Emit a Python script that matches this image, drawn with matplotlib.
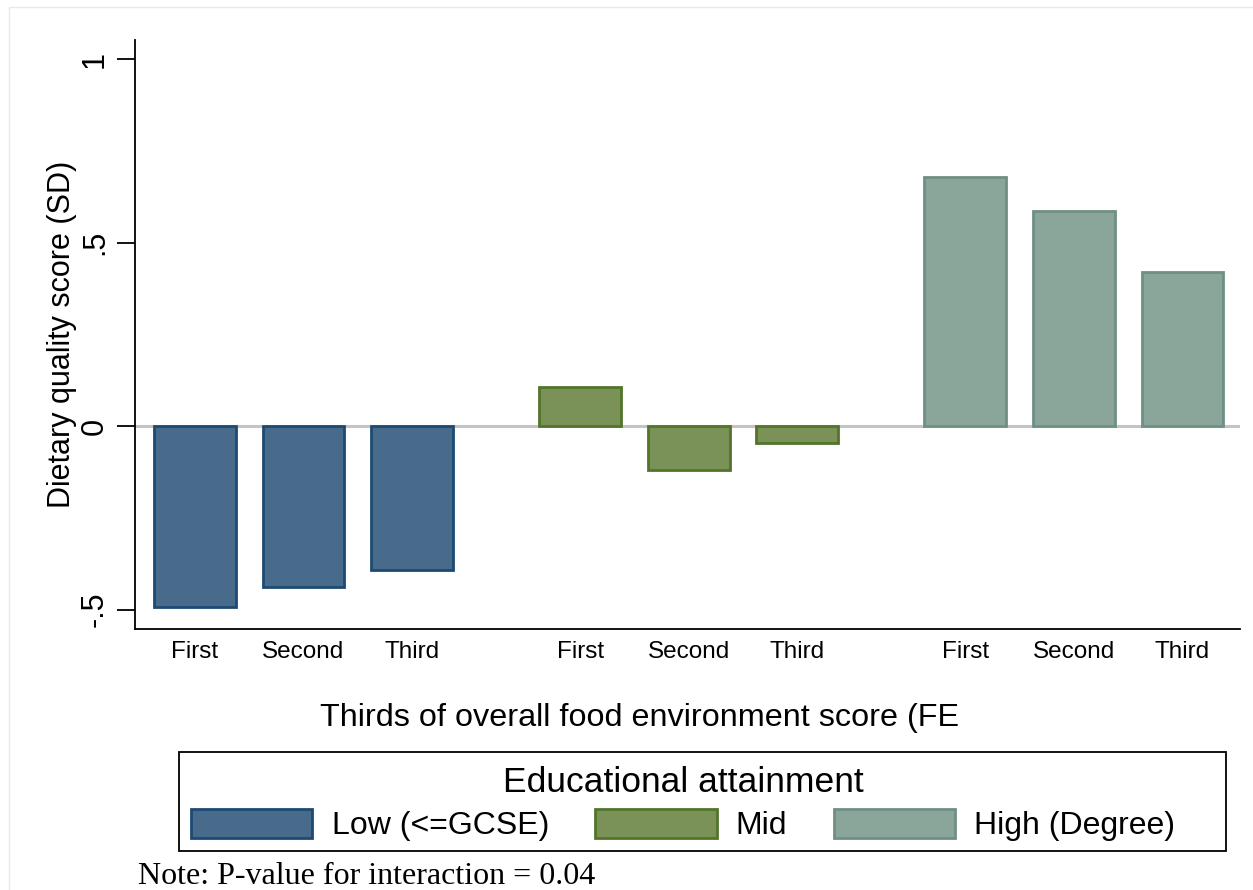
import matplotlib
matplotlib.use("Agg")
import matplotlib.pyplot as plt
from matplotlib.patches import Patch, Rectangle

# Data: mean dietary quality score (SD units) by thirds of food environment score
thirds = ["First", "Second", "Third"]
groups = ["Low (<=GCSE)", "Mid", "High (Degree)"]
low_vals = [-0.493, -0.439, -0.393]
mid_vals = [0.106, -0.120, -0.047]
high_vals = [0.678, 0.586, 0.420]
yticks = [-0.5, 0, 0.5, 1]
ytick_labels = ["-.5", "0", ".5", "1"]

fill_colors = ["#486b8c", "#7a9157", "#8aa59a"]
edge_colors = ["#1c4a72", "#52742b", "#6e9082"]

plt.rcParams["font.family"] = ["Liberation Sans", "DejaVu Sans"]

W, H = 1253, 890
fig = plt.figure(figsize=(W / 100, H / 100), dpi=100)
fig.patch.set_facecolor("white")

# faint outer frame of the graph region
fig.patches.append(Rectangle((9 / W, -0.05), 1.1, 1 - 7 / H + 0.05,
                             transform=fig.transFigure, fill=False,
                             edgecolor="#e3ecec", linewidth=1.0, zorder=0))

ax = fig.add_axes([135 / W, 1 - 629 / H, (1240 - 135) / W, (629 - 40) / H])

group_gap = 0.55
bar_w = 0.755
positions = []
labels = []
series = [low_vals, mid_vals, high_vals]
ax.axhline(0, color="#c4c4c4", linewidth=2.2, zorder=1)
for g, vals in enumerate(series):
    xs = [g * (3 + group_gap) + i for i in range(3)]
    ax.bar(xs, vals, width=bar_w, color=fill_colors[g], edgecolor=edge_colors[g],
           linewidth=2.0, zorder=2, label=groups[g])
    positions += xs
    labels += thirds

ax.set_xlim(-0.553, 2 * (3 + group_gap) + 2 + 0.53)
ax.set_ylim(-0.553, 1.052)
ax.set_xticks(positions)
ax.set_xticklabels(labels, fontsize=17.5)
ax.tick_params(axis="x", length=0, pad=9)
ax.set_yticks(yticks)
ax.set_yticklabels(ytick_labels, fontsize=22, rotation=90, va="center")
ax.tick_params(axis="y", length=13, width=1.3, pad=5)

for side in ["top", "right"]:
    ax.spines[side].set_visible(False)
ax.spines["left"].set_linewidth(1.3)
ax.spines["bottom"].set_linewidth(1.3)

ax.set_ylabel("Dietary quality score (SD)", fontsize=22, labelpad=2)

fig.text(320 / W, 1 - 718 / H, "Thirds of overall food environment score (FE",
         fontsize=23.3, ha="left", va="center")

# legend box
fig.patches.append(Rectangle((179 / W, 1 - 851 / H), (1226 - 179) / W, (851 - 752) / H,
                             transform=fig.transFigure, fill=False,
                             edgecolor="black", linewidth=1.3, zorder=3))

handles = [Patch(facecolor=fill_colors[i], edgecolor=edge_colors[i], linewidth=2.0)
           for i in range(3)]
leg = fig.legend(handles, groups, ncol=3, loc="upper left",
                 bbox_to_anchor=(191 / W, 1 - 766 / H),
                 fontsize=23, title="Educational attainment",
                 title_fontsize=25.5, frameon=False,
                 handlelength=3.8, handleheight=1.05, handletextpad=0.6,
                 columnspacing=1.45, borderpad=0, labelspacing=0.3, borderaxespad=0)

fig.text(138 / W, 1 - 876 / H, "Note: P-value for interaction = 0.04",
         fontsize=23, ha="left", va="center",
         family=["Liberation Serif", "DejaVu Serif"])

fig.savefig("out.png", dpi=100, facecolor="white")
